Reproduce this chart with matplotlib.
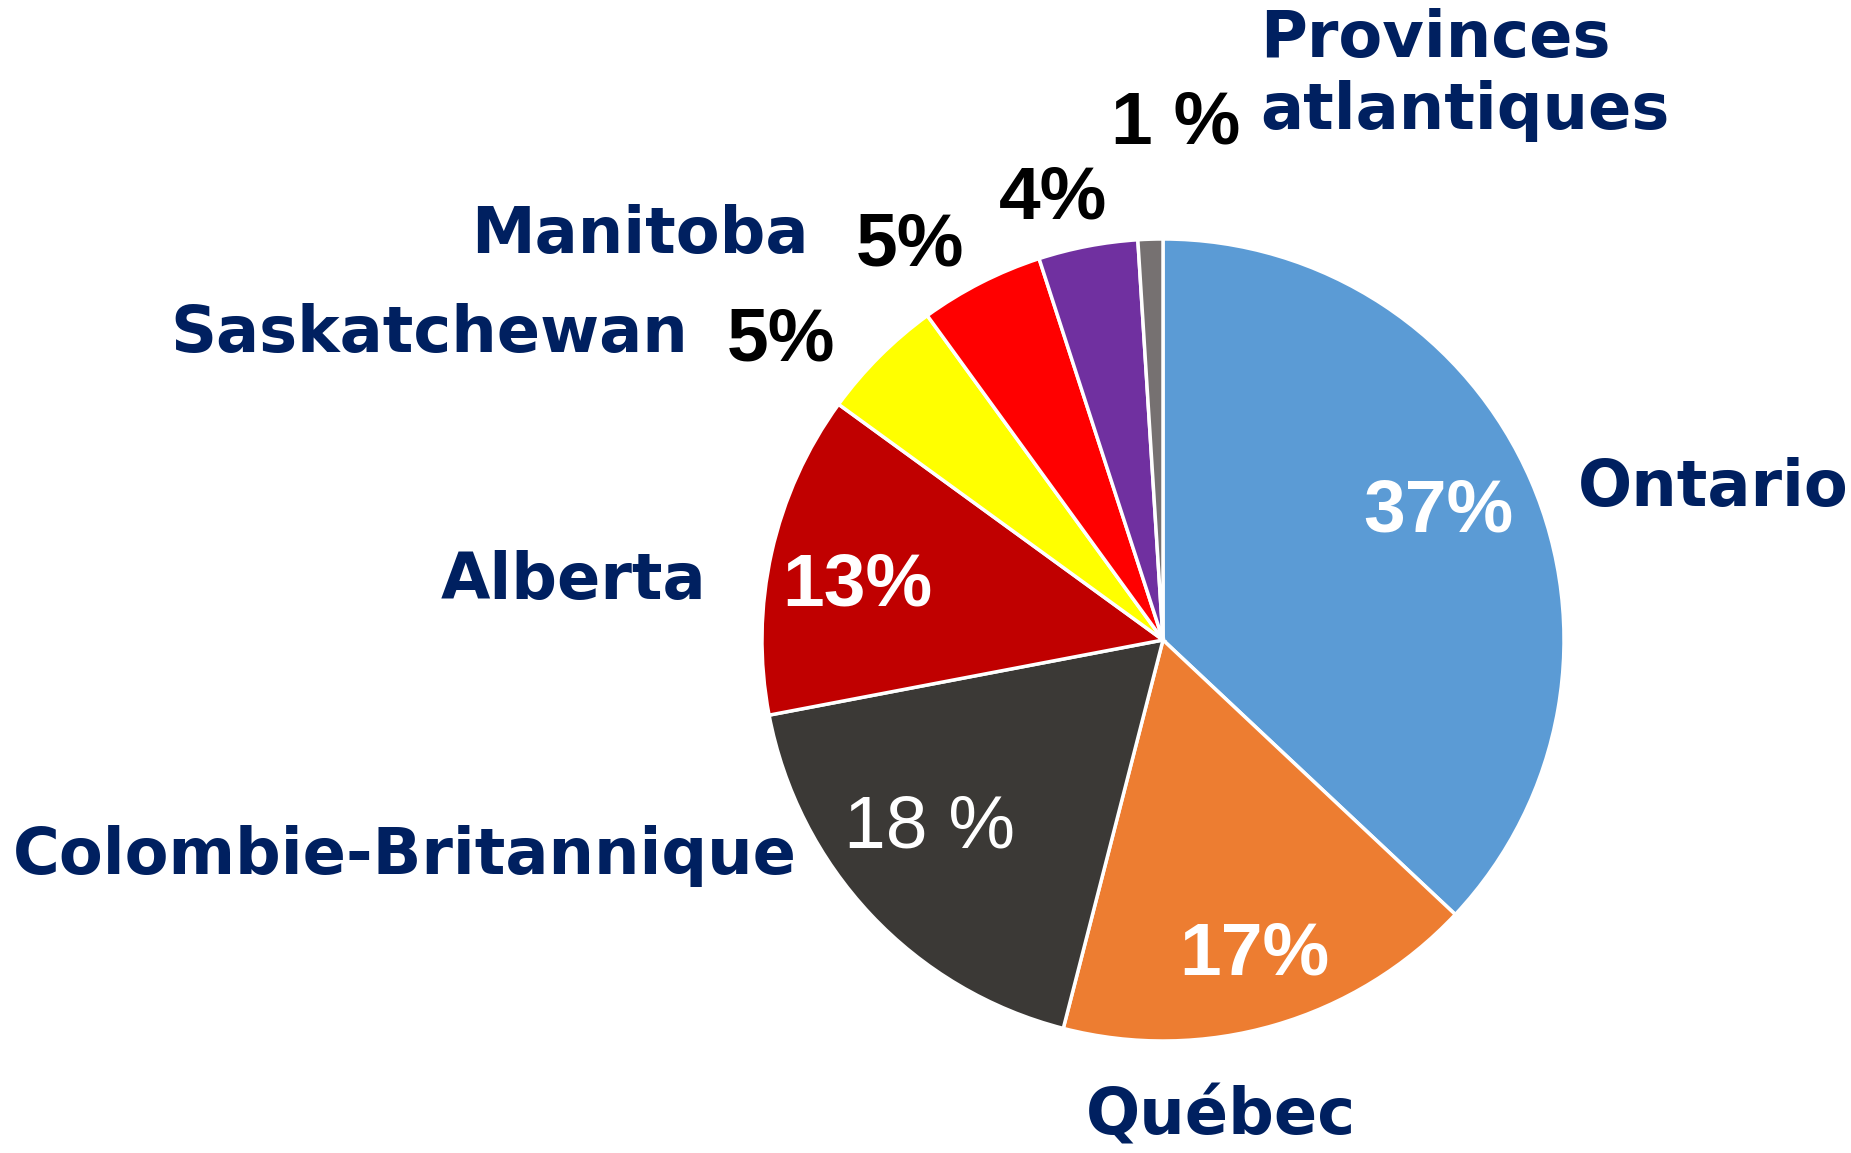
import matplotlib
matplotlib.use("Agg")
import matplotlib.pyplot as plt
from matplotlib import font_manager

# Data
provinces = ["Ontario", "Québec", "Colombie-Britannique", "Alberta",
             "Saskatchewan", "Manitoba", "", "Provinces\natlantiques"]
shares = [37, 17, 18, 13, 5, 5, 4, 1]
pct_labels = ["37%", "17%", "18 %", "13%", "5%", "5%", "4%", "1 %"]
colors = ["#5B9BD5", "#ED7D31", "#3B3936", "#C00000",
          "#FFFF00", "#FF0000", "#7030A0", "#767171"]

W, H = 1851, 1153
navy = "#002060"


def find_font(stem):
    # look up a font file directly, fall back to family name
    for f in font_manager.findSystemFonts():
        if f.split("/")[-1].lower() == stem.lower():
            return font_manager.FontProperties(fname=f)
    return None


arial_b = find_font("LiberationSans-Bold.ttf")
arial_r = find_font("LiberationSans-Regular.ttf")

fig = plt.figure(figsize=(W / 100, H / 100), dpi=100)
ax = fig.add_axes([0, 0, 1, 1])

# pie drawn in pixel space (y down, so angles run clockwise on screen)
ax.pie(shares, colors=colors, startangle=-90, counterclock=True,
       center=(1163, 640), radius=401, frame=True,
       wedgeprops=dict(edgecolor="white", linewidth=2.5))
ax.set_xlim(0, W)
ax.set_ylim(H, 0)
ax.set_aspect("equal")
ax.axis("off")

# percent label positions (pixel) and colours
pct_pos = [(1438, 512), (1254, 955), (929, 828), (857, 586),
           (781, 341), (910, 246), (1053, 199), (1176, 124)]
pct_col = ["white", "white", "white", "white", "black", "black", "black", "black"]
pct_bold = [True, True, False, True, True, True, True, True]
for lab, (x, y), c, b in zip(pct_labels, pct_pos, pct_col, pct_bold):
    fp = arial_b if b else arial_r
    if fp is not None:
        fp = fp.copy()
        fp.set_size(54)
        ax.text(x, y, lab, color=c, fontproperties=fp, ha="center", va="center")
    else:
        ax.text(x, y, lab, color=c, fontsize=54,
                fontweight="bold" if b else "normal",
                family=["Liberation Sans", "DejaVu Sans"],
                ha="center", va="center")

# name label positions: (x, y, ha)
name_pos = [(1578, 488, "left"), (1221, 1116, "center"), (797, 856, "right"),
            (706, 581, "right"), (688, 334, "right"), (809, 235, "right"),
            (0, 0, "left"), (1260, 75, "left")]
for name, (x, y, ha) in zip(provinces, name_pos):
    if not name:
        continue
    ax.text(x, y, name, color=navy, fontsize=46, fontweight="bold",
            family="DejaVu Sans", ha=ha, va="center", linespacing=1.2)

fig.savefig("out.png", dpi=100)
